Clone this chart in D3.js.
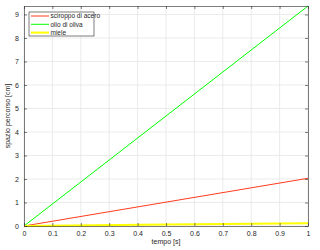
<!DOCTYPE html>
<html>
<head>
<meta charset="utf-8">
<script src="https://cdn.jsdelivr.net/npm/d3@7"></script>
<style>
  body { margin: 0; background: #fff; }
  svg { display: block; font-family: "Liberation Sans", Arial, sans-serif; }
</style>
</head>
<body>
<svg width="320" height="250"></svg>
<script>
// data
const tempo = [0, 0.5, 1];
const sciroppo = [0, 1.015, 2.03];
const olio = [0, 4.68, 9.36];
const miele = [0, 0.06, 0.12];
const xTicks = [0, 0.1, 0.2, 0.3, 0.4, 0.5, 0.6, 0.7, 0.8, 0.9, 1];
const yTicks = [0, 1, 2, 3, 4, 5, 6, 7, 8, 9];
const seriesNames = ["sciroppo di acero", "olio di oliva", "miele"];
const seriesColors = ["#ff3b1f", "#00ff00", "#ffff00"];

const series = [sciroppo, olio, miele].map((vals, i) => ({
  name: seriesNames[i],
  color: seriesColors[i],
  width: i === 2 ? 2 : 1,
  points: vals.map((v, j) => [tempo[j], v])
}));

const svg = d3.select("svg");
const mLeft = 24, mRight = 308, mTop = 6, mBottom = 226;
const axisColor = "#262626";

const x = d3.scaleLinear().domain([0, 1]).range([mLeft, mRight]);
const y = d3.scaleLinear().domain([0, 9.36]).range([mBottom, mTop]);

// grid
const grid = svg.append("g").attr("stroke", "#e6e6e6").attr("stroke-width", 0.8);
grid.selectAll(".gx").data(xTicks).join("line").attr("class", "gx")
  .attr("x1", d => x(d)).attr("x2", d => x(d)).attr("y1", mTop).attr("y2", mBottom);
grid.selectAll(".gy").data(yTicks).join("line").attr("class", "gy")
  .attr("x1", mLeft).attr("x2", mRight).attr("y1", d => y(d)).attr("y2", d => y(d));

// lines
const line = d3.line().x(d => x(d[0])).y(d => y(d[1]));
svg.append("g").selectAll("path").data(series).join("path")
  .attr("fill", "none")
  .attr("stroke", d => d.color)
  .attr("stroke-width", d => d.width)
  .attr("d", d => line(d.points));

// axes, ticks inside
const xAxis = d3.axisBottom(x).tickValues(xTicks).tickSizeInner(-3).tickSizeOuter(0).tickPadding(5)
  .tickFormat(d => d === 0 || d === 1 ? d : d3.format(".1f")(d));
const yAxis = d3.axisLeft(y).tickValues(yTicks).tickSizeInner(-3).tickSizeOuter(0).tickPadding(5);
const xTop = d3.axisTop(x).tickValues(xTicks).tickSizeInner(-3).tickSizeOuter(0).tickFormat("");
const yRight = d3.axisRight(y).tickValues(yTicks).tickSizeInner(-3).tickSizeOuter(0).tickFormat("");

function style(g) {
  g.selectAll("path").attr("stroke", axisColor).attr("stroke-width", 0.6);
  g.selectAll("line").attr("stroke", axisColor).attr("stroke-width", 0.6);
  g.selectAll("text").attr("fill", axisColor).attr("font-size", 7);
}
svg.append("g").attr("transform", `translate(0,${mBottom})`).call(xAxis).call(style);
svg.append("g").attr("transform", `translate(${mLeft},0)`).call(yAxis).call(style);
svg.append("g").attr("transform", `translate(0,${mTop})`).call(xTop).call(style);
svg.append("g").attr("transform", `translate(${mRight},0)`).call(yRight).call(style);

// axis labels
svg.append("text").attr("x", (mLeft + mRight) / 2).attr("y", 244)
  .attr("text-anchor", "middle").attr("font-size", 7).attr("fill", axisColor)
  .text("tempo [s]");
svg.append("text").attr("transform", `translate(9.5,${(mTop + mBottom) / 2}) rotate(-90)`)
  .attr("text-anchor", "middle").attr("font-size", 7).attr("fill", axisColor)
  .text("spazio percorso [cm]");

// legend
const legend = svg.append("g").attr("transform", "translate(29,12)");
legend.append("rect").attr("width", 65).attr("height", 24)
  .attr("fill", "#fff").attr("stroke", axisColor).attr("stroke-width", 0.6);
const item = legend.selectAll(".item").data(series).join("g").attr("class", "item")
  .attr("transform", (d, i) => `translate(0,${4 + i * 8.3})`);
item.append("line").attr("x1", 2).attr("x2", 20)
  .attr("stroke", d => d.color).attr("stroke-width", d => d.width);
item.append("text").attr("x", 21.5).attr("dy", "0.35em")
  .attr("font-size", 6.5).attr("fill", axisColor).text(d => d.name);
</script>
</body>
</html>
